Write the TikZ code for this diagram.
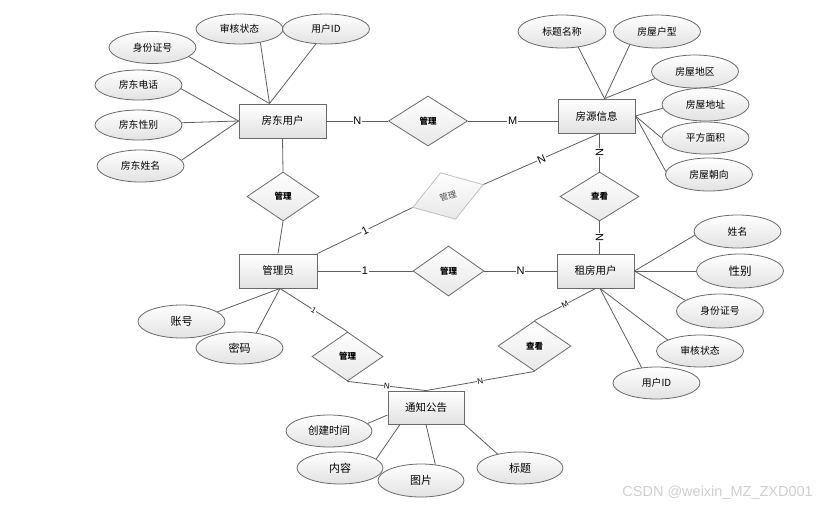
\documentclass[tikz,border=0pt]{standalone}
\usepackage{fontspec}
\setmainfont{Noto Sans CJK SC}
\newfontfamily\labfont{Liberation Sans}
\usetikzlibrary{shapes.geometric}
\definecolor{ln}{HTML}{5E5E5E}
\definecolor{bd}{HTML}{6A6A6A}
\definecolor{shd}{HTML}{E2E2E2}
\tikzset{
 ent/.style={rectangle, draw=bd, line width=0.9pt, top color=white, bottom color=shd, inner sep=0pt, minimum height=34pt, font=\fontsize{10.5}{12}\selectfont},
 attr/.style={ellipse, draw=bd, line width=0.8pt, top color=white, bottom color=shd, inner sep=0pt, minimum width=87pt, minimum height=32pt, font=\fontsize{9.8}{12}\selectfont},
 rel/.style={diamond, draw=bd, line width=0.8pt, top color=white, bottom color=shd!80, inner sep=0pt, font=\bfseries\fontsize{8.5}{10}\selectfont},
 conn/.style={draw=ln, line width=0.8pt},
 card/.style={fill=white, inner sep=0.8pt, font=\labfont\fontsize{11}{12}\selectfont},
 cards/.style={fill=white, inner sep=0.4pt, font=\labfont\fontsize{8}{9}\selectfont},
}
\begin{document}
\begin{tikzpicture}[x=1pt,y=-1pt]
\useasboundingbox[fill=white] (0,0) rectangle (824,509);
% entities
\node[ent, minimum width=87pt] (fd) at (282.5,121) {房东用户};
\node[ent, minimum width=77pt] (fy) at (596.5,116) {房源信息};
\node[ent, minimum width=78pt] (gly) at (278,271) {管理员};
\node[ent, minimum width=77pt] (zf) at (595.5,271) {租房用户};
\node[ent, minimum width=76pt, minimum height=33pt] (tz) at (426,407.5) {通知公告};
% relationships
\node[rel, minimum width=79pt, minimum height=50pt] (r1) at (428,121) {管理};
\node[rel, minimum width=72pt, minimum height=49pt] (r2) at (283,196.5) {管理};
\node[rel, draw=gray!50, text=gray!60!black, minimum width=74pt, minimum height=49pt, rotate=18, font=\fontsize{8.5}{10}\selectfont] (r3) at (448,196) {管理};
\node[rel, minimum width=79pt, minimum height=49pt] (r4) at (599.5,196.5) {查看};
\node[rel, minimum width=71pt, minimum height=50pt] (r5) at (448.5,271) {管理};
\node[rel, minimum width=71pt, minimum height=49pt] (r6) at (347.5,356.5) {管理};
\node[rel, minimum width=73pt, minimum height=50pt] (r7) at (534.5,346) {查看};
% attributes of 房东用户
\node[attr] (a1) at (152.5,47.5) {身份证号};
\node[attr, minimum height=30pt] (a2) at (239.5,29) {审核状态};
\node[attr, minimum height=30pt] (a3) at (326,29) {用户ID};
\node[attr, minimum height=30pt] (a4) at (138.5,85) {房东电话};
\node[attr, minimum height=30pt] (a5) at (138.5,125) {房东性别};
\node[attr] (a6) at (140.5,166) {房东姓名};
% attributes of 房源信息
\node[attr, minimum width=88pt, minimum height=33pt] (b1) at (562,31.5) {标题名称};
\node[attr, minimum height=33pt] (b2) at (657,31.5) {房屋户型};
\node[attr, minimum height=33pt] (b3) at (695,71.5) {房屋地区};
\node[attr, minimum height=33pt] (b4) at (705.5,104.5) {房屋地址};
\node[attr] (b5) at (705.5,138) {平方面积};
\node[attr, minimum height=33pt] (b6) at (709,174.5) {房屋朝向};
% attributes of 租房用户
\node[attr, minimum height=33pt] (c1) at (737.5,231.5) {姓名};
\node[attr, minimum height=34pt, font=\fontsize{11.5}{13}\selectfont] (c2) at (740,271) {性别};
\node[attr, minimum height=34pt] (c3) at (720,311) {身份证号};
\node[attr] (c4) at (700,351) {审核状态};
\node[attr] (c5) at (656.5,383) {用户ID};
% attributes of 管理员
\node[attr, minimum height=32pt, font=\fontsize{11}{13}\selectfont] (g2) at (239.5,348) {密码};
\node[attr, minimum height=33pt, font=\fontsize{11}{13}\selectfont] (g1) at (181.5,321.5) {账号};
% attributes of 通知公告
\node[attr, minimum width=86pt, font=\fontsize{10.5}{13}\selectfont] (t1) at (329,431) {创建时间};
\node[attr, minimum width=86pt, font=\fontsize{11}{13}\selectfont] (t2) at (340,468) {内容};
\node[attr, minimum width=86pt, minimum height=33pt, font=\fontsize{11}{13}\selectfont] (t3) at (421,480.5) {图片};
\node[attr, minimum width=86pt, font=\fontsize{11}{13}\selectfont] (t4) at (520,468) {标题};
% helper coordinates
\coordinate (fdt) at ([xshift=-13pt]fd.north);
\coordinate (fyt) at ([xshift=8pt]fy.north);
\coordinate (fyb) at (r4.north |- fy.south);
\coordinate (zfb) at ([xshift=4.5pt]zf.south);
\coordinate (glyb) at ([xshift=2pt]gly.south);
% attribute lines
\draw[conn] (a1.-14) -- (fdt);
\draw[conn] (a2.-33) -- (fdt);
\draw[conn] (a3.-124) -- (fdt);
\draw[conn] (a4.-5) -- (fd.west);
\draw[conn] (a5.3) -- (fd.west);
\draw[conn] (a6.8) -- (fd.west);
\draw[conn] (b1.-44) -- (fyt);
\draw[conn] (b2.-154) -- (fyt);
\draw[conn] (b3.-170) -- (fyt);
\draw[conn] (b4.185) -- (fy.east);
\draw[conn] (b5.180) -- (fy.east);
\draw[conn] (b6.176) -- (fy.east);
\draw[conn] (c1.185) -- (zf.east);
\draw[conn] (c2.180) -- (zf.east);
\draw[conn] (c3.163) -- (zf.east);
\draw[conn] (c4.161) -- (zfb);
\draw[conn] (c5.134) -- (zfb);
\draw[conn] (g1.15) -- (glyb);
\draw[conn] (g2.42) -- (glyb);
\draw[conn] (t1.11) -- ([yshift=-7.5pt]tz.west);
\draw[conn] (t2.14) -- ([xshift=-26pt]tz.south);
\draw[conn] (t3.48) -- (tz.south);
\draw[conn] (t4.148) -- (tz.south east);
% relationship lines
\draw[conn] (fd.east) -- node[card]{N} (r1.west);
\draw[conn] (r1.east) -- node[card]{M} (r1.east -| fy.west);
\draw[conn] (fd.south) -- (r2.north);
\draw[conn] (r2.south) -- (gly.north);
\draw[conn] (gly.north east) -- node[card, sloped]{1} (r3.west);
\draw[conn] (r3.east) -- node[card, sloped]{N} (fyb);
\draw[conn] (fyb) -- node[card, rotate=90]{N} (r4.north);
\draw[conn] (r4.south) -- node[card, rotate=90]{N} (r4.south |- zf.north);
\draw[conn] (gly.east) -- node[card]{1} (r5.west);
\draw[conn] (r5.east) -- node[card]{N} (zf.west);
\draw[conn] (glyb) -- node[cards, sloped]{1} (r6.north);
\draw[conn] (r6.south) -- node[cards, sloped]{N} (tz.north);
\draw[conn] (zf.south) -- node[cards, sloped]{M} (r7.north);
\draw[conn] (r7.south) -- node[cards, sloped]{N} (tz.north);
% watermark
\node[anchor=east, text=gray!38, inner sep=0pt, font=\labfont\fontsize{14.5}{16}\selectfont] (wm) at (813,493) {CSDN @weixin\_MZ\_ZXD001};
\end{tikzpicture}
\end{document}
